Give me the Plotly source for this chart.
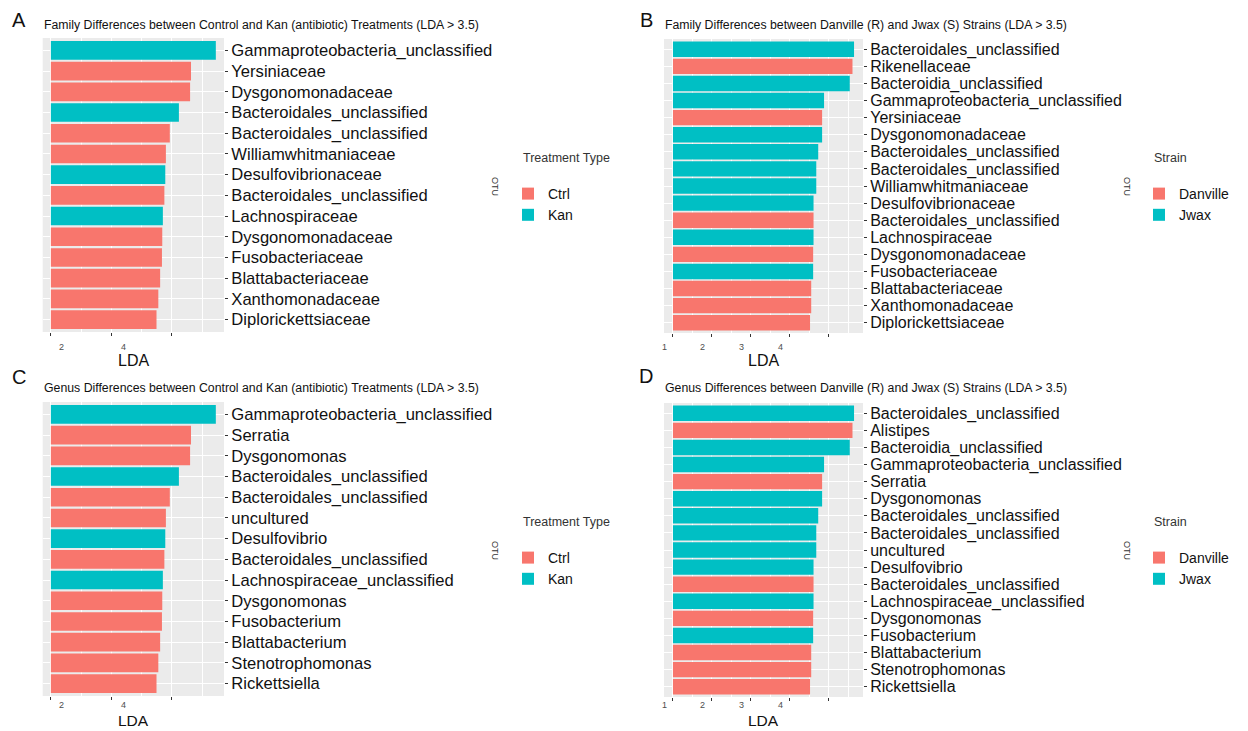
import plotly.graph_objects as go

# page body has an 8px margin: the figure is offset by 8px inside the window
W, H = 1240, 723
OFF = 8
RED = "#F8766D"
TEAL = "#00BFC4"

# ---------------- data ----------------
fam_ck_labels = ["Gammaproteobacteria_unclassified", "Yersiniaceae", "Dysgonomonadaceae",
                 "Bacteroidales_unclassified", "Bacteroidales_unclassified", "Williamwhitmaniaceae",
                 "Desulfovibrionaceae", "Bacteroidales_unclassified", "Lachnospiraceae",
                 "Dysgonomonadaceae", "Fusobacteriaceae", "Blattabacteriaceae",
                 "Xanthomonadaceae", "Diplorickettsiaceae"]
fam_ck_groups = ["Kan", "Ctrl", "Ctrl", "Kan", "Ctrl", "Ctrl", "Kan", "Ctrl", "Kan",
                 "Ctrl", "Ctrl", "Ctrl", "Ctrl", "Ctrl"]
fam_ck_lda = [5.45, 4.63, 4.60, 4.23, 3.93, 3.80, 3.78, 3.75, 3.70, 3.68, 3.67, 3.61, 3.55, 3.49]

gen_ck_labels = ["Gammaproteobacteria_unclassified", "Serratia", "Dysgonomonas",
                 "Bacteroidales_unclassified", "Bacteroidales_unclassified", "uncultured",
                 "Desulfovibrio", "Bacteroidales_unclassified", "Lachnospiraceae_unclassified",
                 "Dysgonomonas", "Fusobacterium", "Blattabacterium",
                 "Stenotrophomonas", "Rickettsiella"]
gen_ck_groups = ["Kan", "Ctrl", "Ctrl", "Kan", "Ctrl", "Ctrl", "Kan", "Ctrl", "Kan",
                 "Ctrl", "Ctrl", "Ctrl", "Ctrl", "Ctrl"]
gen_ck_lda = [5.45, 4.63, 4.60, 4.23, 3.93, 3.80, 3.78, 3.75, 3.70, 3.68, 3.67, 3.61, 3.55, 3.49]

fam_dj_labels = ["Bacteroidales_unclassified", "Rikenellaceae", "Bacteroidia_unclassified",
                 "Gammaproteobacteria_unclassified", "Yersiniaceae", "Dysgonomonadaceae",
                 "Bacteroidales_unclassified", "Bacteroidales_unclassified", "Williamwhitmaniaceae",
                 "Desulfovibrionaceae", "Bacteroidales_unclassified", "Lachnospiraceae",
                 "Dysgonomonadaceae", "Fusobacteriaceae", "Blattabacteriaceae",
                 "Xanthomonadaceae", "Diplorickettsiaceae"]
fam_dj_groups = ["Jwax", "Danville", "Jwax", "Jwax", "Danville", "Jwax", "Jwax", "Jwax", "Jwax",
                 "Jwax", "Danville", "Jwax", "Danville", "Jwax", "Danville", "Danville", "Danville"]
fam_dj_lda = [4.65, 4.61, 4.54, 3.88, 3.83, 3.83, 3.73, 3.68, 3.68, 3.61, 3.61, 3.61,
              3.60, 3.60, 3.55, 3.55, 3.52]

gen_dj_labels = ["Bacteroidales_unclassified", "Alistipes", "Bacteroidia_unclassified",
                 "Gammaproteobacteria_unclassified", "Serratia", "Dysgonomonas",
                 "Bacteroidales_unclassified", "Bacteroidales_unclassified", "uncultured",
                 "Desulfovibrio", "Bacteroidales_unclassified", "Lachnospiraceae_unclassified",
                 "Dysgonomonas", "Fusobacterium", "Blattabacterium",
                 "Stenotrophomonas", "Rickettsiella"]
gen_dj_groups = ["Jwax", "Danville", "Jwax", "Jwax", "Danville", "Jwax", "Jwax", "Jwax", "Jwax",
                 "Jwax", "Danville", "Jwax", "Danville", "Jwax", "Danville", "Danville", "Danville"]
gen_dj_lda = [4.65, 4.61, 4.54, 3.88, 3.83, 3.83, 3.73, 3.68, 3.68, 3.61, 3.61, 3.61,
              3.60, 3.60, 3.55, 3.55, 3.52]

ck_ticks = [0, 2, 4]
ck_minor = [1, 3, 5]
ck_ticklabels = ["2", "4"]
dj_ticks = [0, 1, 2, 3, 4]
dj_minor = [0.5, 1.5, 2.5, 3.5, 4.5]
dj_ticklabels = ["1", "2", "3", "4"]

titles = ["Family Differences between Control and Kan (antibiotic) Treatments (LDA > 3.5)",
          "Family Differences between Danville (R) and Jwax (S) Strains (LDA > 3.5)",
          "Genus Differences between Control and Kan (antibiotic) Treatments (LDA > 3.5)",
          "Genus Differences between Danville (R) and Jwax (S) Strains (LDA > 3.5)"]
letters = ["A", "B", "C", "D"]

# ---------------- layout helpers ----------------
FONT = "Liberation Sans, Arial, sans-serif"
fig = go.Figure()


def px(x):
    return (x - OFF) / W


def py(y):
    return 1 - (y - OFF) / H


panels = [
    dict(lab=fam_ck_labels, grp=fam_ck_groups, val=fam_ck_lda, names=["Ctrl", "Kan"],
         ticks=ck_ticks, minor=ck_minor, tl=ck_ticklabels, tlpos=[0.36, 2.41],
         box=(42.7, 224, 38, 332), xr=[-0.27, 5.72], lsize=16.6, ltitle="Treatment Type",
         ltx=521, box_leg=508, otu=495, letter=(19, 20), lda=(360, "middle", 16), tly=347),
    dict(lab=fam_dj_labels, grp=fam_dj_groups, val=fam_dj_lda, names=["Danville", "Jwax"],
         ticks=dj_ticks, minor=dj_minor, tl=dj_ticklabels, tlpos=[-0.23, 0.77, 1.76, 2.76],
         box=(664, 863, 39, 333), xr=[-0.23, 4.88], lsize=16, ltitle="Strain",
         ltx=1152, box_leg=1139, otu=1127, letter=(646, 20), lda=(360, "middle", 16), tly=347),
]
panels.append(dict(panels[0], lab=gen_ck_labels, grp=gen_ck_groups, val=gen_ck_lda,
                   box=(42.7, 224, 402, 696), letter=(19, 377),
                   lda=(731, "bottom", 15.5), tly=705))
panels.append(dict(panels[1], lab=gen_dj_labels, grp=gen_dj_groups, val=gen_dj_lda,
                   box=(664, 863, 403, 697), letter=(646, 376),
                   lda=(731, "bottom", 15.5), tly=705))
offsets = [0, 0, 364, 364]

annotations = []
for i, p in enumerate(panels):
    k = "" if i == 0 else str(i + 1)
    xa, ya = "x" + k, "y" + k
    leg = "legend" + k
    colors = {p["names"][0]: RED, p["names"][1]: TEAL}
    n = len(p["lab"])
    for g in p["names"]:
        idx = [j for j in range(n) if p["grp"][j] == g]
        fig.add_trace(go.Bar(
            orientation="h",
            x=[p["val"][j] for j in idx],
            y=[j for j in idx],
            width=0.9,
            name=g,
            marker=dict(color=colors[g], line=dict(width=0)),
            xaxis=xa, yaxis=ya, legend=leg,
            hovertemplate="%{x}<extra></extra>",
        ))
    x0, x1, y0, y1 = p["box"]
    fig.update_layout({
        "xaxis" + k: dict(domain=[px(x0), px(x1)], range=p["xr"], anchor=ya,
                          tickmode="array", tickvals=p["ticks"], ticktext=[""] * len(p["ticks"]),
                          ticks="outside", ticklen=3, tickcolor="#333333", tickwidth=1,
                          showgrid=True, gridcolor="white", gridwidth=1.1, zeroline=False,
                          showline=False,
                          minor=dict(tickmode="array", tickvals=p["minor"], showgrid=True,
                                     gridcolor="white", gridwidth=0.5, ticks="")),
        "yaxis" + k: dict(domain=[py(y1), py(y0)], range=[n - 0.4, -0.6], anchor=xa,
                          side="right", tickmode="array", tickvals=list(range(n)),
                          ticktext=p["lab"], ticks="outside", ticklen=3, tickcolor="#333333",
                          tickfont=dict(size=p["lsize"], color="#111111", family=FONT),
                          showgrid=True, gridcolor="white", gridwidth=1.1, zeroline=False,
                          showline=False),
        leg: dict(x=px(p["box_leg"]), y=py(178 + offsets[i]), xanchor="left", yanchor="top",
                  bgcolor="rgba(0,0,0,0)", font=dict(size=14, family=FONT, color="#111111"),
                  tracegroupgap=0, traceorder="normal"),
    })
    # x tick labels
    for t, pos in zip(p["tl"], p["tlpos"]):
        annotations.append(dict(x=pos, y=py(p["tly"]), xref=xa, yref="paper",
                                text=t, showarrow=False, xanchor="center", yanchor="middle",
                                font=dict(size=9, color="#4D4D4D", family=FONT)))
    # LDA
    ly_, lanchor, lsz = p["lda"]
    annotations.append(dict(x=px((x0 + x1) / 2), y=py(ly_), xref="paper",
                            yref="paper", text="LDA", showarrow=False,
                            xanchor="center", yanchor=lanchor,
                            font=dict(size=lsz, color="#111111", family=FONT)))
    # title
    annotations.append(dict(x=px(x0 - 1), y=py(25 + offsets[i] - (1 if i >= 2 else 0)),
                            xref="paper", yref="paper",
                            text=titles[i], showarrow=False, xanchor="left", yanchor="middle",
                            font=dict(size=12.3, color="#111111", family=FONT)))
    # letter
    lx, ly = p["letter"]
    annotations.append(dict(x=px(lx), y=py(ly), xref="paper", yref="paper", text=letters[i],
                            showarrow=False, xanchor="center", yanchor="middle",
                            font=dict(size=20, color="#111111", family=FONT)))
    # OTU
    annotations.append(dict(x=px(p["otu"]), y=py(186 + offsets[i]), xref="paper", yref="paper",
                            text="OTU", showarrow=False, textangle=90,
                            xanchor="center", yanchor="middle",
                            font=dict(size=9, color="#333333", family=FONT)))
    # legend title
    annotations.append(dict(x=px(p["ltx"]), y=py(158 + offsets[i]), xref="paper", yref="paper",
                            text=p["ltitle"], showarrow=False, xanchor="left", yanchor="middle",
                            font=dict(size=12.5, color="#333333", family=FONT)))

fig.update_layout(
    width=W, height=H,
    margin=dict(l=0, r=0, t=0, b=0),
    paper_bgcolor="white", plot_bgcolor="#EBEBEB",
    barmode="overlay",
    font=dict(family=FONT),
    annotations=annotations,
    showlegend=True,
)

fig.write_html("out.html")
